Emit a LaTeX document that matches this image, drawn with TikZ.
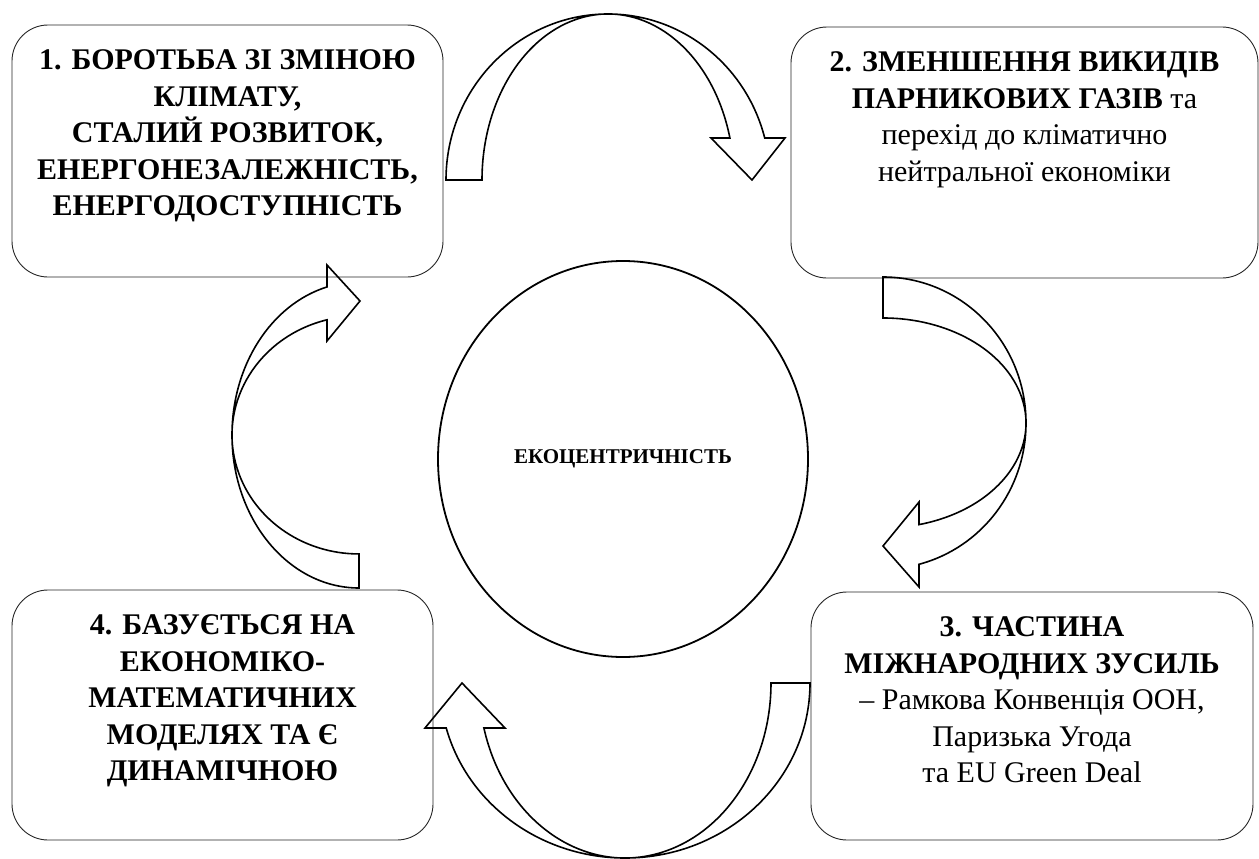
\documentclass[tikz,border=0pt]{standalone}
\usepackage{fontspec}
\setmainfont{Liberation Serif}
\usetikzlibrary{positioning,shapes.geometric}
\tikzset{
  stage/.style={draw=black!85, line width=0.9pt, rounded corners=36pt, inner sep=0pt},
  stagetext/.style={align=center, inner sep=0pt, font=\fontsize{30}{36.5}\selectfont},
  bent/.style={line width=1.6pt, line join=miter},
}
\begin{document}
\begin{tikzpicture}[x=1pt, y=-1pt]
  \useasboundingbox (0,0) rectangle (1259,859);

  \node[stage, minimum width=431pt, minimum height=252pt] (b1) at (227.5,151) {};
  \node[stage, minimum width=467pt, minimum height=251pt] (b2) at (1024.5,152.5) {};
  \node[stage, minimum width=442pt, minimum height=248pt] (b3) at (1032,716) {};
  \node[stage, minimum width=421pt, minimum height=250pt] (b4) at (222.5,715) {};

  \node[stagetext, below=25pt of b1.north] (t1) {\bfseries 1. БОРОТЬБА ЗІ ЗМІНОЮ\\ \bfseries КЛІМАТУ,\\ \bfseries СТАЛИЙ РОЗВИТОК,\\ \bfseries ЕНЕРГОНЕЗАЛЕЖНІСТЬ,\\ \bfseries ЕНЕРГОДОСТУПНІСТЬ};
  \node[stagetext, below=25pt of b2.north] (t2) {\bfseries 2. ЗМЕНШЕННЯ ВИКИДІВ\\ \textbf{ПАРНИКОВИХ ГАЗІВ} та\\ перехід до кліматично\\ нейтральної економіки};
  \node[stagetext, below=25pt of b3.north] (t3) {\bfseries 3. ЧАСТИНА\\ \bfseries МІЖНАРОДНИХ ЗУСИЛЬ\\ – Рамкова Конвенція ООН,\\ Паризька Угода\\ та EU Green Deal};
  \node[stagetext, below=25pt of b4.north] (t4) {\bfseries 4. БАЗУЄТЬСЯ НА\\ \bfseries ЕКОНОМІКО-\\ \bfseries МАТЕМАТИЧНИХ\\ \bfseries МОДЕЛЯХ ТА Є\\ \bfseries ДИНАМІЧНОЮ};

  \node[ellipse, draw, line width=1.8pt, minimum width=370pt, minimum height=396pt,
    font=\fontsize{21}{25}\selectfont\bfseries] (eco) at (623,459) {ЕКОЦЕНТРИЧНІСТЬ};

  % curved block arrows between the stages
  \draw[bent] (446,180) arc[start angle=180, end angle=345.35, x radius=162, y radius=166]
    -- (785,138) -- (752,180) -- (711,138) -- (729.9,138)
    arc[start angle=345.35, end angle=180, x radius=126, y radius=166] -- cycle;
  \draw[bent] (883,277) arc[start angle=-90, end angle=75.42, x radius=143, y radius=146]
    -- (919,587) -- (883,546) -- (919,502) -- (919,524.6)
    arc[start angle=75.42, end angle=-90, x radius=143, y radius=105] -- cycle;
  \draw[bent] (810,683) arc[start angle=0, end angle=165.1, x radius=185, y radius=175]
    -- (425,728) -- (462,683) -- (505,728) -- (483.9,728)
    arc[start angle=165.1, end angle=0, x radius=146, y radius=175] -- cycle;
  \draw[bent] (359,588) arc[start angle=90, end angle=255.4, x radius=127, y radius=153]
    -- (327,265) -- (360,301) -- (327,341) -- (327,319.8)
    arc[start angle=255.4, end angle=90, x radius=127, y radius=119] -- cycle;
\end{tikzpicture}
\end{document}
